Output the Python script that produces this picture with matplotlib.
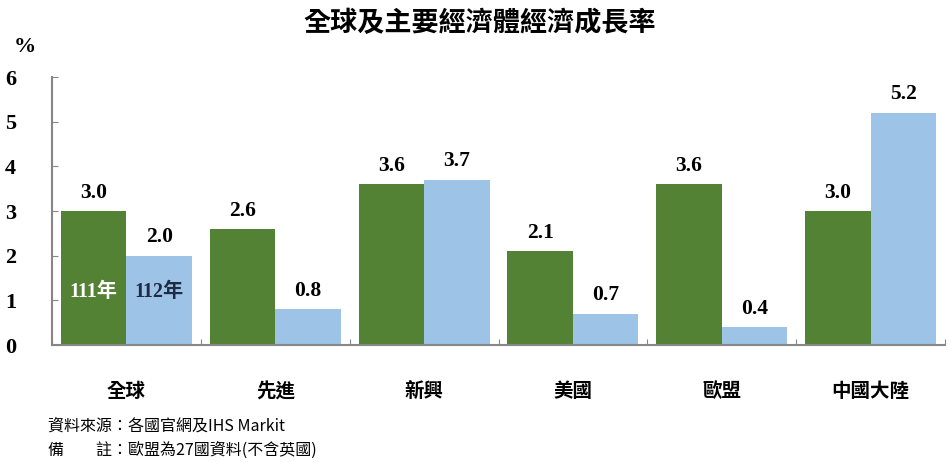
import matplotlib
matplotlib.use("Agg")
import matplotlib.pyplot as plt
import numpy as np

categories = ["全球", "先進", "新興", "美國", "歐盟", "中國大陸"]
series_names = ["111年", "112年"]
values_111 = [3.0, 2.6, 3.6, 2.1, 3.6, 3.0]
values_112 = [2.0, 0.8, 3.7, 0.7, 0.4, 5.2]
yticks = [0, 1, 2, 3, 4, 5, 6]

FONT = ["Liberation Serif", "Noto Sans CJK TC", "DejaVu Sans"]
CJK = ["Noto Sans CJK TC", "DejaVu Sans"]
plt.rcParams["font.family"] = FONT

green = "#548235"
blue = "#9DC3E6"
axis_col = "#868686"

fig = plt.figure(figsize=(9.53, 4.62), dpi=100)
ax = fig.add_axes([0.0546, 0.2532, 0.9370, 0.5801])

x = np.arange(len(categories))
w = 0.44
b1 = ax.bar(x - w / 2, values_111, width=w, color=green)
b2 = ax.bar(x + w / 2, values_112, width=w, color=blue)

for bars, vals in ((b1, values_111), (b2, values_112)):
    for r, v in zip(bars, vals):
        ax.annotate(f"{v:.1f}", (r.get_x() + r.get_width() / 2, v),
                    xytext=(0, 6), textcoords="offset points",
                    ha="center", va="bottom", fontsize=15.5, fontweight="bold",
                    family=FONT, color="#000000")

# series labels inside the first group
ax.text(x[0] - w / 2, 1.19, series_names[0], ha="center", va="center",
        fontsize=14.5, fontweight="bold", color="white", family=FONT)
ax.text(x[0] + w / 2, 1.19, series_names[1], ha="center", va="center",
        fontsize=14.5, fontweight="bold", color="#1F2A44", family=FONT)

ax.set_xlim(-0.5, len(categories) - 0.5)
ax.set_ylim(0, 6)
ax.set_yticks(yticks)
ax.set_yticklabels([str(t) for t in yticks], fontsize=16, fontweight="bold")
ax.tick_params(axis="y", direction="in", length=4, color=axis_col, pad=26)

# category boundary ticks on x axis
ax.set_xticks(np.arange(-0.5, len(categories) + 0.5, 1.0))
ax.set_xticklabels([])
ax.tick_params(axis="x", direction="in", length=4, color=axis_col)
for xi, c in zip(x, categories):
    ax.text(xi, -1.05, c, ha="center", va="center", fontsize=14,
            fontweight="bold", family=CJK)

for s in ("top", "right"):
    ax.spines[s].set_visible(False)
for s in ("left", "bottom"):
    ax.spines[s].set_color(axis_col)
    ax.spines[s].set_linewidth(1.5)

fig.text(0.014, 0.898, "%", fontsize=16, fontweight="bold", ha="left", va="center")
fig.text(0.503, 0.950, "全球及主要經濟體經濟成長率", ha="center", va="center",
         fontsize=19.5, fontweight="bold", family=CJK)
fig.text(0.05, 0.078, "資料來源：各國官網及IHS Markit", ha="left", va="center",
         fontsize=11.5, family=CJK)
fig.text(0.05, 0.025, "備　　註：歐盟為27國資料(不含英國)", ha="left", va="center",
         fontsize=11.5, family=CJK)

fig.savefig("out.png", dpi=100)
